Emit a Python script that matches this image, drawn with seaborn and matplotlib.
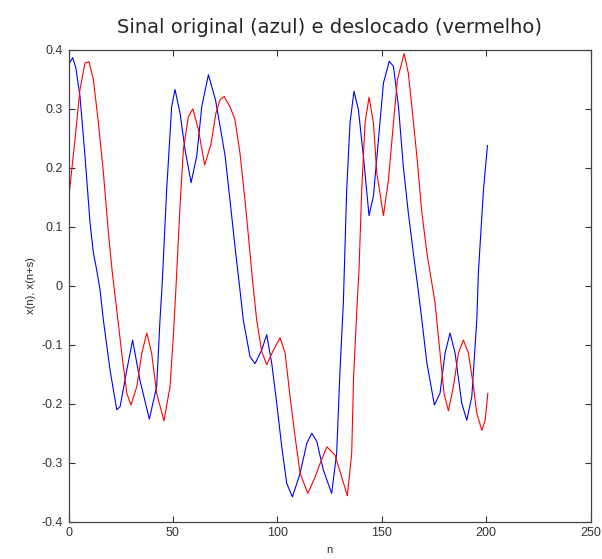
import numpy as np
import pandas as pd
import matplotlib
matplotlib.use("Agg")
import matplotlib.pyplot as plt
import seaborn as sns

# sinal original (azul)
n_orig = [0, 2, 3.5, 5.5, 7.9, 10.3, 11.9, 13.5, 15.1, 16.7, 19.9, 23.1, 24.7,
          27.9, 30.7, 34.2, 38.7, 42.2, 43.8, 44.8, 47, 49.4, 51, 53.4, 55.8,
          58.7, 61.4, 63.8, 67, 70.4, 72.6, 75, 77.3, 79.7, 82.1, 83.7, 86.9,
          89.3, 92.5, 94.9, 97.3, 99.7, 102.1, 104.5, 107.2, 110.9, 114.1,
          116.5, 118.9, 122, 126, 128.4, 130, 131.6, 133.2, 134.8, 136.7,
          138.8, 141.2, 143.9, 146, 148.4, 150.8, 153.6, 155.6, 158, 160.3,
          162.7, 165.1, 167.2, 169.2, 171.6, 175.2, 177.9, 180.3, 182.7,
          185.1, 188.3, 190.7, 193.1, 195.5, 196.3, 198.7, 200.6]
x_orig = [0.375, 0.387, 0.37, 0.321, 0.22, 0.107, 0.056, 0.027, -0.007, -0.058,
          -0.143, -0.21, -0.205, -0.143, -0.092, -0.16, -0.226, -0.171, -0.058,
          0.0, 0.163, 0.304, 0.333, 0.293, 0.231, 0.175, 0.22, 0.304, 0.358,
          0.315, 0.27, 0.22, 0.146, 0.067, -0.007, -0.058, -0.12, -0.132,
          -0.109, -0.083, -0.131, -0.199, -0.273, -0.335, -0.358, -0.318,
          -0.267, -0.25, -0.264, -0.312, -0.352, -0.284, -0.143, -0.029,
          0.163, 0.277, 0.33, 0.299, 0.22, 0.119, 0.152, 0.248, 0.344, 0.381,
          0.372, 0.304, 0.203, 0.124, 0.056, -0.001, -0.058, -0.131, -0.202,
          -0.182, -0.114, -0.08, -0.114, -0.199, -0.228, -0.188, -0.058,
          0.025, 0.163, 0.238]

# sinal deslocado (vermelho)
n_desl = [0, 3.1, 5.5, 7.9, 9.8, 11.9, 14.3, 16.7, 19.1, 20.9, 23.1, 25.5,
          27.9, 29.9, 32.7, 35.1, 37.5, 39.8, 42.2, 45.7, 48.6, 50.2, 51.5,
          53.4, 55, 57.4, 59.5, 62.2, 65.2, 68.2, 70.6, 72.6, 74.5, 77.3,
          79.7, 82.1, 84.5, 86.9, 88.1, 90.1, 92.5, 94.9, 98.1, 101.3, 103.7,
          106.1, 108.5, 110.9, 114.6, 118.1, 120.5, 123.7, 127.6, 130.8,
          133.5, 135.6, 136.5, 138, 139.1, 140.4, 142, 143.9, 146, 147.6,
          150.8, 153.2, 155.6, 157.5, 160.7, 162.7, 164.4, 166.8, 169.2,
          171.6, 173.5, 175.5, 177.9, 179.8, 181.9, 184.3, 186.7, 189.1,
          191.5, 193.9, 195.5, 197.9, 199.5, 200.8]
x_desl = [0.145, 0.248, 0.333, 0.378, 0.38, 0.35, 0.277, 0.192, 0.09, 0.025,
          -0.041, -0.114, -0.182, -0.202, -0.171, -0.114, -0.08, -0.114,
          -0.182, -0.229, -0.171, -0.086, 0.0, 0.135, 0.231, 0.287, 0.3,
          0.265, 0.205, 0.24, 0.293, 0.316, 0.321, 0.304, 0.282, 0.225, 0.146,
          0.056, 0.01, -0.058, -0.111, -0.134, -0.109, -0.088, -0.114, -0.188,
          -0.256, -0.318, -0.352, -0.324, -0.301, -0.273, -0.287, -0.324,
          -0.356, -0.284, -0.155, -0.045, 0.027, 0.163, 0.277, 0.32, 0.277,
          0.192, 0.119, 0.18, 0.277, 0.35, 0.394, 0.361, 0.304, 0.22, 0.124,
          0.056, 0.015, -0.029, -0.114, -0.182, -0.212, -0.171, -0.114,
          -0.092, -0.114, -0.171, -0.216, -0.245, -0.228, -0.182]

x_ticks = [0, 50, 100, 150, 200, 250]
y_ticks = [-0.4, -0.3, -0.2, -0.1, 0, 0.1, 0.2, 0.3, 0.4]
y_labels = ["-0.4", "-0.3", "-0.2", "-0.1", "0", "0.1", "0.2", "0.3", "0.4"]

sns.set_style("ticks")
plt.rcParams["font.family"] = ["Liberation Sans", "DejaVu Sans"]

fig = plt.figure(figsize=(6.02, 5.59), dpi=100)
ax = fig.add_axes([0.1138, 0.0667, 0.8673, 0.8439])

df_orig = pd.DataFrame({"n": n_orig, "x": x_orig})
df_desl = pd.DataFrame({"n": n_desl, "x": x_desl})
sns.lineplot(data=df_orig, x="n", y="x", ax=ax, color="#0000ff",
             linewidth=0.8, sort=False, estimator=None)
sns.lineplot(data=df_desl, x="n", y="x", ax=ax, color="#ff0000",
             linewidth=0.8, sort=False, estimator=None)

ax.set_xlim(0, 250)
ax.set_ylim(-0.4, 0.4)
ax.set_xticks(x_ticks)
ax.set_yticks(y_ticks)
ax.set_yticklabels(y_labels)
ax.tick_params(direction="in", length=4, width=0.8, colors="#333333",
               labelsize=9, top=True, right=True, pad=4)
for s in ax.spines.values():
    s.set_color("#444444")
    s.set_linewidth(0.9)

ax.set_xlabel("n", fontsize=8, labelpad=4)
ax.set_ylabel("x(n), x(n+s)", fontsize=8, labelpad=4)
ax.set_title("Sinal original (azul) e deslocado (vermelho)",
             fontsize=14, family="DejaVu Sans", pad=12)

fig.savefig("out.png", dpi=100)
